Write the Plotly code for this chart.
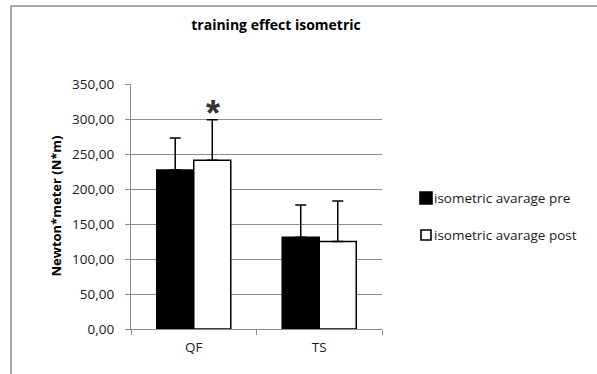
import plotly.graph_objects as go

categories = ["QF", "TS"]
pre_values = [227, 131]
post_values = [241, 125]
pre_err = [46, 46]
post_err = [58, 58]
series_names = ["isometric avarage pre", "isometric avarage post"]
y_ticks = [0, 50, 100, 150, 200, 250, 300, 350]

W, H = 597, 374
L, R, T, B = 131, 215, 84, 45
pw, ph = W - L - R, H - T - B

font = "Open Sans, Liberation Sans, sans-serif"
fs = 13.5

fig = go.Figure()
fig.add_trace(go.Bar(
    x=categories, y=pre_values, name=series_names[0],
    marker=dict(color="black", line=dict(color="black", width=1.5)),
    error_y=dict(type="data", array=pre_err, arrayminus=[0, 0], symmetric=False,
                 color="black", thickness=1.5, width=5.5),
    showlegend=False,
))
fig.add_trace(go.Bar(
    x=categories, y=post_values, name=series_names[1],
    marker=dict(color="white", line=dict(color="black", width=1.5)),
    error_y=dict(type="data", array=post_err, arrayminus=[0, 0], symmetric=False,
                 color="black", thickness=1.5, width=5.5),
    showlegend=False,
))

def px_x(px):
    return (px - L) / pw

def px_y(py):
    return (H - B - py) / ph

fig.update_layout(
    width=W, height=H,
    margin=dict(l=L, r=R, t=T, b=B, autoexpand=False),
    paper_bgcolor="white", plot_bgcolor="white",
    separators=",.",
    font=dict(family=font, size=fs, color="#1a1a1a"),
    barmode="group", bargap=0.41, bargroupgap=0,
    title=dict(text="<b>training effect isometric</b>", x=276 / W, xanchor="center",
               y=1 - 25 / H, yanchor="middle", xref="container", yref="container",
               font=dict(size=14, color="black", family=font)),
    xaxis=dict(showline=True, linecolor="#8c8c8c", linewidth=1.2,
               ticks="outside", tickson="boundaries", ticklen=5, tickcolor="#8c8c8c",
               ticklabelstandoff=6,
               tickfont=dict(size=fs, color="#1a1a1a"), showgrid=False),
    yaxis=dict(range=[0, 350], tickvals=y_ticks, tickformat=".2f",
               showline=True, linecolor="#8c8c8c", linewidth=1.2,
               ticks="outside", ticklen=5, tickcolor="#8c8c8c",
               ticklabelstandoff=8,
               showgrid=True, gridcolor="#8c8c8c", gridwidth=1.2,
               zeroline=False, tickfont=dict(size=fs, color="#1a1a1a")),
    showlegend=False,
)

fig.add_annotation(text="<b>Newton*meter (N*m)</b>", textangle=-90,
                   xref="paper", yref="paper", x=px_x(55), y=0.5,
                   xanchor="center", yanchor="middle", showarrow=False,
                   font=dict(size=13, color="black"))
fig.add_annotation(text="<b>*</b>", xref="x", yref="y", x="QF", y=308, xshift=19,
                   showarrow=False, font=dict(size=36, color="#333", family="Liberation Sans"),
                   yanchor="middle")

# legend (drawn manually for the tight symbol/text spacing)
legend_rows = [(198, "black", 420, 432), (235, "white", 421, 431)]
for (yc, col, xa, xb), name in zip(legend_rows, series_names):
    half = (xb - xa) / 2
    fig.add_shape(type="rect", xref="paper", yref="paper",
                  x0=px_x(xa), x1=px_x(xb), y0=px_y(yc + half), y1=px_y(yc - half),
                  line=dict(color="black", width=1.6), fillcolor=col)
    fig.add_annotation(text=name, xref="paper", yref="paper", x=px_x(432), y=px_y(yc),
                       xanchor="left", yanchor="middle", showarrow=False,
                       font=dict(size=fs, color="#1a1a1a"))

fig.add_shape(type="rect", xref="paper", yref="paper",
              x0=px_x(11), x1=px_x(620), y0=px_y(400), y1=px_y(6),
              line=dict(color="#8c8c8c", width=1.5), fillcolor="rgba(0,0,0,0)", layer="below")

fig.write_html("out.html")
